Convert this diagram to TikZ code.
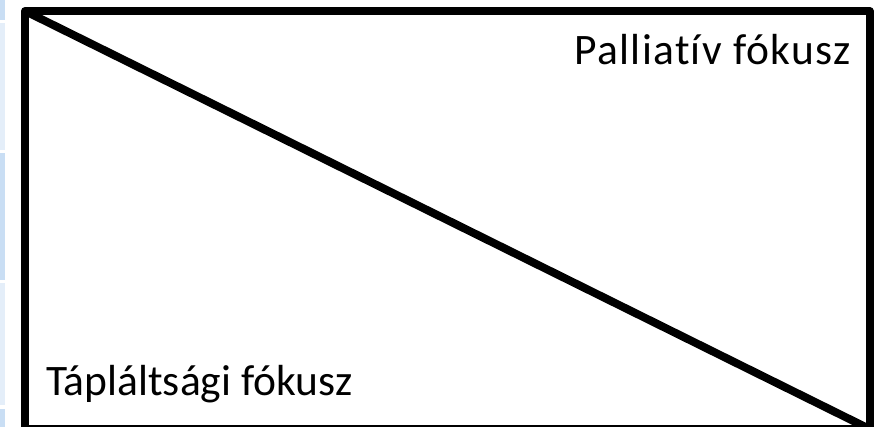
\documentclass[tikz,border=0pt]{standalone}
\usepackage{fontspec}
\setmainfont[Ligatures={NoCommon}]{Carlito}
\begin{document}
\begin{tikzpicture}[x=1pt,y=1pt,
  frame/.style={line width=8pt, line join=round, draw=black},
  label/.style={font=\fontsize{43.5}{52}\selectfont, inner sep=0pt},
  stripdark/.style={fill={rgb,255:red,201;green,222;blue,244}, draw=none},
  striplight/.style={fill={rgb,255:red,228;green,238;blue,249}, draw=none}]
  \useasboundingbox (0,0) rectangle (882,427);
  \fill[white] (0,0) rectangle (882,427);
  % pale side strip
  \fill[stripdark]  (0,407) rectangle (5,427);
  \fill[striplight] (0,277) rectangle (5,404);
  \fill[stripdark]  (0,147) rectangle (5,274);
  \fill[striplight] (0,22)  rectangle (5,144);
  \fill[stripdark]  (0,0)   rectangle (5,18);
  % frame and diagonal
  \coordinate (tl) at (25,416);
  \coordinate (br) at (869.5,-2);
  \draw[frame] (tl) rectangle (br);
  \draw[frame] (tl) -- (br);
  \node[label, anchor=base east] (pal) at (851,362)
    {\addfontfeature{LetterSpace=3}Palliatív fókusz};
  \node[label, anchor=base west] (tap) at (46,31.3) {Tápláltsági fókusz};
\end{tikzpicture}
\end{document}
